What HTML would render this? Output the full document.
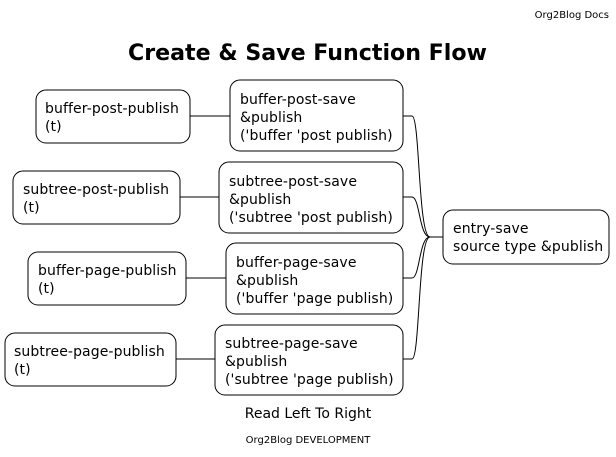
<!DOCTYPE html>
<html><head><style>
html,body{margin:0;padding:0;background:#fff;}
svg{display:block;}
text{font-family:"DejaVu Sans","Liberation Sans",sans-serif;fill:#000;}
.n{font-size:14px;letter-spacing:0.1px;}
</style></head><body>
<svg width="616" height="457" viewBox="0 0 616 457" xmlns="http://www.w3.org/2000/svg">
<text x="609" y="18" font-size="10" text-anchor="end">Org2Blog Docs</text>
<text x="128" y="60" font-size="22" font-weight="bold" textLength="359" lengthAdjust="spacingAndGlyphs">Create &amp; Save Function Flow</text>
<g fill="none" stroke="#000" stroke-width="1">
<rect x="36" y="90" width="154" height="53" rx="10"/>
<rect x="13" y="171" width="167" height="53" rx="10"/>
<rect x="28" y="252" width="158" height="53" rx="10"/>
<rect x="5" y="333" width="171" height="53" rx="10"/>
<rect x="230" y="80" width="173" height="71" rx="10"/>
<rect x="219" y="162" width="184" height="71" rx="10"/>
<rect x="226" y="243" width="177" height="71" rx="10"/>
<rect x="215" y="325" width="188" height="70" rx="10"/>
<rect x="443" y="210" width="166" height="54" rx="10"/>
<line x1="190" y1="116" x2="230" y2="116"/>
<line x1="180" y1="197" x2="219" y2="197"/>
<line x1="186" y1="278" x2="226" y2="278"/>
<line x1="176" y1="359" x2="215" y2="359"/>
<path d="M403 116 H412 C420 116 418 237 430 237"/>
<path d="M403 197 H412 C420 197 419 237 430 237"/>
<path d="M403 278 H412 C420 278 419 237 430 237"/>
<path d="M403 359 H412 C420 359 418 237 430 237"/>
<line x1="430" y1="237" x2="443" y2="237"/>
</g>
<text class="n" x="45" y="113">buffer-post-publish</text><text class="n" x="45" y="131">(t)</text>
<text class="n" x="23" y="194">subtree-post-publish</text><text class="n" x="23" y="212">(t)</text>
<text class="n" x="38" y="275">buffer-page-publish</text><text class="n" x="38" y="293">(t)</text>
<text class="n" x="14" y="356">subtree-page-publish</text><text class="n" x="14" y="374">(t)</text>
<text class="n" x="240" y="104">buffer-post-save</text><text class="n" x="240" y="122">&amp;publish</text><text class="n" x="240" y="140">('buffer 'post publish)</text>
<text class="n" x="229" y="186">subtree-post-save</text><text class="n" x="229" y="204">&amp;publish</text><text class="n" x="229" y="222">('subtree 'post publish)</text>
<text class="n" x="236" y="267">buffer-page-save</text><text class="n" x="236" y="285">&amp;publish</text><text class="n" x="236" y="303">('buffer 'page publish)</text>
<text class="n" x="225" y="348">subtree-page-save</text><text class="n" x="225" y="366">&amp;publish</text><text class="n" x="225" y="384">('subtree 'page publish)</text>
<text class="n" x="453" y="233">entry-save</text><text class="n" x="453" y="251">source type &amp;publish</text>
<text x="308" y="418" font-size="14" text-anchor="middle">Read Left To Right</text>
<text x="308" y="443" font-size="10" text-anchor="middle">Org2Blog DEVELOPMENT</text>
</svg>
</body></html>
